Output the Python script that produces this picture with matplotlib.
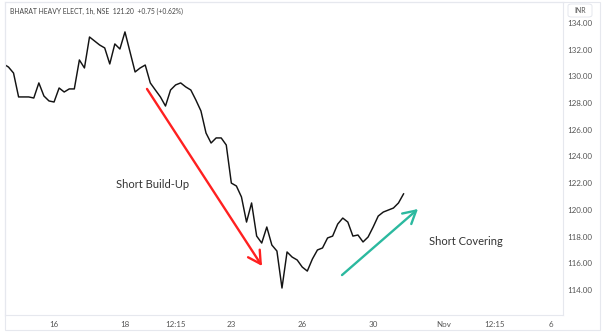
import matplotlib.pyplot as plt
from matplotlib.patches import Rectangle, FancyBboxPatch

# hourly closes, BHEL (NSE), bar index 0 = first visible bar
closes = [
    130.93, 130.70, 130.25, 128.46, 128.46, 128.46, 128.38, 129.51, 128.53, 128.16,
    128.08, 129.13, 128.83, 129.06, 129.06, 131.23, 130.63, 132.95, 132.65, 132.35,
    132.13, 130.93, 132.43, 132.05, 133.33, 131.83, 130.33, 130.63, 130.85, 129.51,
    128.98, 128.46, 127.78, 128.98, 129.36, 129.51, 129.21, 128.98, 128.23, 127.41,
    125.76, 125.01, 125.39, 125.39, 124.86, 122.01, 121.79, 120.97, 119.09, 120.52,
    118.04, 117.52, 118.72, 117.37, 116.92, 114.15, 116.85, 116.47, 116.25, 115.72,
    115.42, 116.32, 117.00, 117.15, 117.90, 118.04, 118.94, 119.39, 119.09, 118.04,
    118.12, 117.60, 117.97, 118.72, 119.54, 119.84, 119.99, 120.14, 120.52, 121.20,
]
bars = list(range(len(closes)))

x_tick_pos = [10, 24, 34, 45, 59, 73, 87, 97, 108]
x_tick_lbl = ["16", "18", "12:15", "23", "26", "30", "Nov", "12:15", "6"]
y_ticks = [114, 116, 118, 120, 122, 124, 126, 128, 130, 132, 134]

title = "BHARAT HEAVY ELECT, 1h, NSE  121.20  +0.75 (+0.62%)"

W, H = 602, 333
fig = plt.figure(figsize=(W / 100, H / 100), dpi=100)
fig.patch.set_facecolor("white")

ax = fig.add_axes([5 / W, 1 - 315 / H, 558 / W, 313 / H])
ax.plot(bars, closes, color="#131313", lw=1.05)

ax.set_xlim(0.316, 110.48)
ax.set_ylim(112.13, 135.57)

ax.yaxis.tick_right()
ax.set_yticks(y_ticks)
ax.set_yticklabels(["%.2f" % v for v in y_ticks])
ax.set_xticks(x_tick_pos)
ax.set_xticklabels(x_tick_lbl)
ax.tick_params(axis="both", length=0, labelsize=5.8, labelcolor="#555555")
ax.tick_params(axis="y", pad=3)
ax.tick_params(axis="x", pad=4)
for lbl in ax.get_xticklabels() + ax.get_yticklabels():
    lbl.set_family("Lato")
for s in ax.spines.values():
    s.set_color("#e6e8ee")
    s.set_linewidth(0.8)

# annotations
ax.annotate("", xy=(51.06, 115.80), xytext=(28.35, 129.06),
            arrowprops=dict(arrowstyle="->,head_length=0.9,head_width=0.5",
                            color="#ff2020", lw=1.7, mutation_scale=10,
                            shrinkA=0, shrinkB=0))
ax.annotate("", xy=(81.85, 120.07), xytext=(66.85, 115.12),
            arrowprops=dict(arrowstyle="->,head_length=0.9,head_width=0.5",
                            color="#2bb99f", lw=1.7, mutation_scale=10,
                            shrinkA=0, shrinkB=0))
ax.text(29.5, 121.87, "Short Build-Up", fontsize=8, family="Lato",
        color="#333333", ha="center", va="center")
ax.text(91.3, 117.67, "Short Covering", fontsize=8, family="Lato",
        color="#333333", ha="center", va="center")

fig.text(10 / W, 1 - 11 / H, title, fontsize=4.9, family="Lato",
         color="#444444", ha="left", va="center")

# outer frame and INR badge
fig.patches.append(Rectangle((5 / W, 1 - 330 / H), 595 / W, 328 / H,
                             transform=fig.transFigure, fill=False,
                             ec="#e6e8ee", lw=0.8))
fig.patches.append(FancyBboxPatch((568 / W, 1 - 17 / H), 24 / W, 13 / H,
                                  boxstyle="round,pad=0,rounding_size=0.006",
                                  transform=fig.transFigure, fc="white",
                                  ec="#e0e3eb", lw=0.6))
fig.text(580 / W, 1 - 10.5 / H, "INR", fontsize=5, family="Lato",
         color="#555555", ha="center", va="center")

fig.savefig("out.png", dpi=100, facecolor="white")
